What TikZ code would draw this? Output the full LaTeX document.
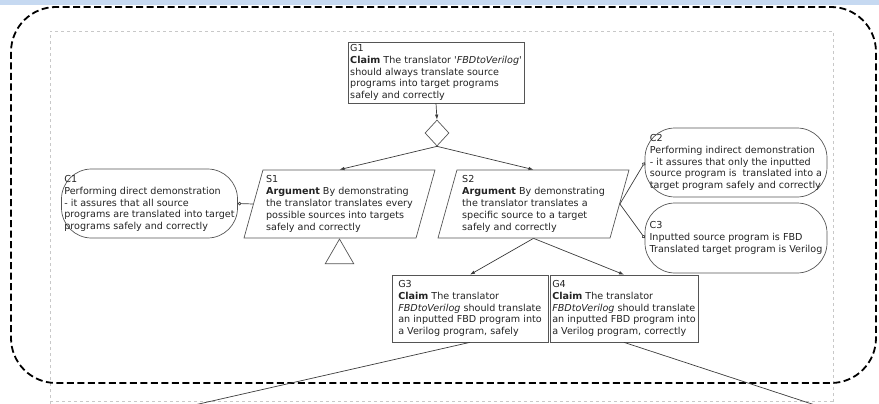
\documentclass[tikz,border=0pt]{standalone}
\usepackage{fontspec}
\setmainfont{DejaVu Sans}
\usetikzlibrary{shapes.geometric,arrows.meta}
\definecolor{bandblue}{RGB}{198,217,241}
\definecolor{boxgray}{RGB}{85,85,85}
\definecolor{linegray}{RGB}{60,60,60}
\definecolor{txtgray}{RGB}{35,35,35}
\definecolor{pagegray}{RGB}{200,200,200}
\begin{document}
\begin{tikzpicture}[x=1pt,y=1pt,
  every node/.style={font=\fontsize{9.6}{11.8}\selectfont, text=txtgray, align=left, inner sep=1pt},
  goalbox/.style={draw=boxgray, rectangle, line width=0.7pt},
  stratbox/.style={draw=boxgray, trapezium, trapezium left angle=72, trapezium right angle=108,
    trapezium stretches body, minimum width=191, minimum height=68, line width=0.7pt},
  ctxbox/.style={draw=boxgray, rectangle, rounded corners=30, minimum width=176, minimum height=69, line width=0.7pt},
  conn/.style={draw=linegray, line width=0.7pt},
  supto/.style={conn, -{Latex[length=5pt,width=3.5pt]}},
  ctxto/.style={conn, -{Circle[open,length=3.5pt,width=3.5pt]}}]
\useasboundingbox (0,0) rectangle (879,-404);
\clip (0,0) rectangle (879,-404);
\fill [bandblue] (0,0) rectangle (879,-5);
\draw [pagegray, dashed, line width=0.5pt] (50,-410) -- (50,-31) -- (833,-31) -- (833,-410);
\draw [pagegray, dashed, line width=0.5pt] (50,-401) -- (833,-401);
\draw [black, line width=1.8pt, dash pattern=on 7pt off 3.5pt, rounded corners=45] (11,-7) rectangle (876,-383);
\node [goalbox, minimum width=176, minimum height=61] (g1) at (436,-72.5) {G1\\\textbf{Claim} The translator \textit{\textquotesingle FBDtoVerilog\textquotesingle}\\should always translate source\\programs into target programs\\safely and correctly};
\node [draw=boxgray, diamond, minimum width=24, minimum height=26, inner sep=0pt, line width=0.7pt] (d1) at (437,-133) {};
\node [stratbox] (s1) at (339.5,-204) {S1\\\textbf{Argument} By demonstrating\\the translator translates every\\possible sources into targets\\safely and correctly};
\node [stratbox] (s2) at (533.5,-204) {S2\\\textbf{Argument} By demonstrating\\the translator translates a\\specific source to a target\\safely and correctly};
\node [draw=boxgray, regular polygon, regular polygon sides=3, minimum size=33, inner sep=0pt, anchor=corner 1, line width=0.7pt] (u1) at (s1.south) {};
\node [ctxbox] (c1) at (149.5,-203.5) {C1\\Performing direct demonstration\\- it assures that all source\\programs are translated into target\\programs safely and correctly};
\node [ctxbox, minimum width=182] (c2) at (736,-162.5) {C2\\Performing indirect demonstration\\- it assures that only the inputted\\source program is\ \ translated into a\\target program safely and correctly};
\node [ctxbox, minimum width=182, minimum height=70] (c3) at (736,-238) {C3\\Inputted source program is FBD\\Translated target program is Verilog};
\node [goalbox, minimum width=156, minimum height=67] (g3) at (470,-308.5) {G3\\\textbf{Claim} The translator\\\textit{FBDtoVerilog} should translate\\an inputted FBD program into\\a Verilog program, safely};
\node [goalbox, minimum width=148, minimum height=67] (g4) at (624,-308.5) {G4\\\textbf{Claim} The translator\\\textit{FBDtoVerilog} should translate\\an inputted FBD program into\\a Verilog program, correctly};
\coordinate (g3out) at (190,-406);
\coordinate (g4out) at (818,-406);
\draw [supto] (g1.south) -- (d1.north);
\draw [supto] (d1.south) -- (s1.north);
\draw [supto] (d1.south) -- (s2.north);
\draw [ctxto] (s1.west) -- (c1.east);
\draw [ctxto] (s2.east) -- (c2.west);
\draw [ctxto] (s2.east) -- (c3.west);
\draw [supto] (s2.south) -- (g3.north);
\draw [supto] (s2.south) -- (g4.north);
\draw [conn] (g3.south) -- (g3out);
\draw [conn] (g4.south) -- (g4out);
\end{tikzpicture}
\end{document}
